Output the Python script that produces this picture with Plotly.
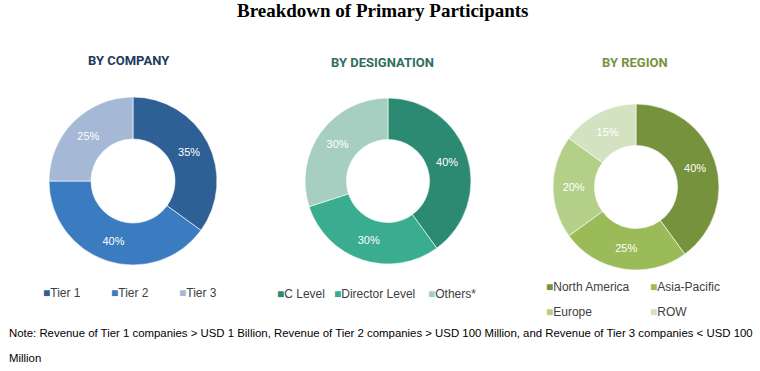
import plotly.graph_objects as go

# ---- data ----
company_labels = ["Tier 1", "Tier 2", "Tier 3"]
company_values = [35, 40, 25]
company_colors = ["#2E6096", "#3B7BBF", "#A5B9D6"]

designation_labels = ["C Level", "Director Level", "Others*"]
designation_values = [40, 30, 30]
designation_colors = ["#2D8A72", "#3AAD91", "#A6CFC2"]

region_labels = ["North America", "Asia-Pacific", "Europe", "ROW"]
region_values = [40, 25, 20, 15]
region_colors = ["#77923C", "#9BBB59", "#B4CF88", "#D3E2C0"]

title_text = "Breakdown of Primary Participants"
subtitles = ["BY COMPANY", "BY DESIGNATION", "BY REGION"]
subtitle_colors = ["#1F3B5C", "#2E6F5F", "#77923C"]
note_lines = [
    "Note: Revenue of Tier 1 companies > USD 1 Billion, Revenue of Tier 2 companies > USD 100 Million, and Revenue of Tier 3 companies < USD 100",
    "Million",
]

# ---- layout helpers ----
W, H = 760, 371

def fx(x):
    return x / W

def fy(y):
    return 1 - y / H

def dom(x0, x1, y0, y1):
    return dict(x=[fx(x0), fx(x1)], y=[fy(y1), fy(y0)])

fig = go.Figure()

pies = [
    (company_labels, company_values, company_colors, dom(49, 217, 97, 265)),
    (designation_labels, designation_values, designation_colors, dom(305, 471, 98, 264)),
    (region_labels, region_values, region_colors, dom(553, 719, 104, 270)),
]

for labels, values, colors, d in pies:
    fig.add_trace(go.Pie(
        labels=labels, values=values, hole=0.5, sort=False, direction="clockwise",
        rotation=0, domain=d, showlegend=False,
        marker=dict(colors=colors, line=dict(color="white", width=0.6)),
        textinfo="percent", textposition="inside", insidetextorientation="horizontal",
        textfont=dict(color="white", size=11, family="Liberation Sans, Arial"),
        hoverinfo="label+percent",
    ))

fig.update_layout(
    width=W, height=H,
    margin=dict(l=0, r=0, t=0, b=0),
    paper_bgcolor="white", plot_bgcolor="white",
)

anns = [
    dict(text="<b>" + title_text + "</b>", x=fx(383), y=fy(11), xref="paper", yref="paper",
         showarrow=False, xanchor="center", yanchor="middle",
         font=dict(family="Liberation Serif, Times New Roman", size=19, color="black")),
]
for txt, col, cx, cy in zip(subtitles, subtitle_colors, [129, 383, 635], [61, 62, 62]):
    anns.append(dict(text="<b>" + txt + "</b>", x=fx(cx), y=fy(cy), xref="paper", yref="paper",
                     showarrow=False, xanchor="center", yanchor="middle",
                     font=dict(family="Roboto", size=13, color=col)))

# legends (entry positions = layout)
legend_groups = [
    (company_labels, company_colors, [(43, 293), (111, 293), (179, 293)]),
    (designation_labels, designation_colors, [(277, 294), (334, 294), (428, 294)]),
    (region_labels, region_colors, [(546, 287), (650, 287), (546, 312), (650, 312)]),
]
for labels, colors, pos in legend_groups:
    for lab, col, (lx, ly) in zip(labels, colors, pos):
        anns.append(dict(
            text=f'<span style="color:{col};font-size:12px">■</span>{lab}',
            x=fx(lx - 2), y=fy(ly), xref="paper", yref="paper",
            showarrow=False, xanchor="left", yanchor="middle",
            font=dict(family="Liberation Sans, Arial", size=12, color="#404040")))

for line, ly in zip(note_lines, [333, 358]):
    anns.append(dict(text=line, x=fx(7), y=fy(ly), xref="paper", yref="paper",
                     showarrow=False, xanchor="left", yanchor="middle",
                     font=dict(family="Liberation Sans, Arial", size=11.4, color="black")))
fig.update_layout(annotations=anns)

fig.write_html("out.html", config={"displayModeBar": False},
               post_script="document.body.style.margin='0px';")
